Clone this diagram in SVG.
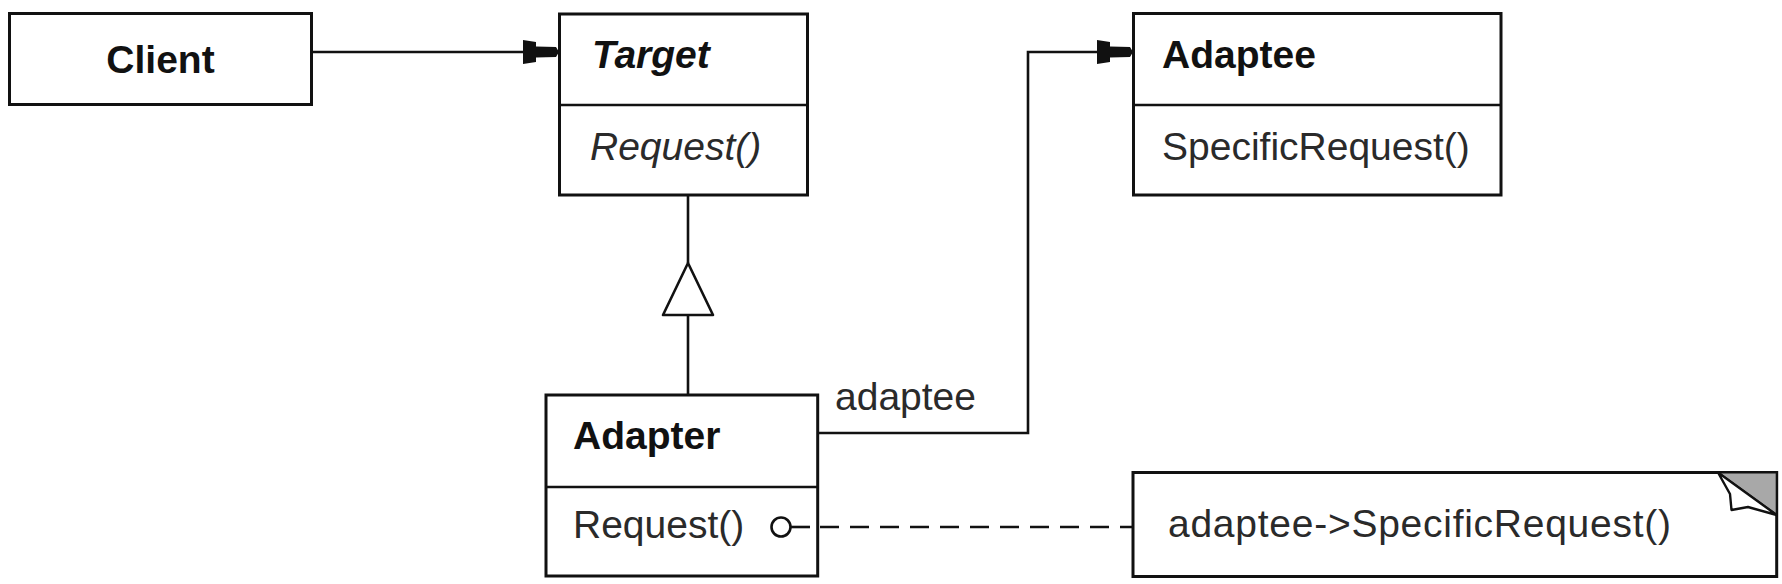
<svg xmlns="http://www.w3.org/2000/svg" width="1782" height="584" viewBox="0 0 1782 584">
<style>
.box{fill:#fff;stroke:#111;stroke-width:3}
.line{fill:none;stroke:#111;stroke-width:2.6}
.dash{fill:none;stroke:#111;stroke-width:2.6;stroke-dasharray:19 11}
.t{font-family:"Liberation Sans",Arial,Helvetica,sans-serif;font-size:39px;fill:#2a2a2a}
.b{font-weight:bold;fill:#111}
.i{font-style:italic}
</style>
<defs>
<marker id="arr" viewBox="0 0 36 24" refX="36" refY="12" markerWidth="36" markerHeight="24" markerUnits="userSpaceOnUse" orient="auto">
<path d="M0,0 L13,2 L13,6.5 L33,7 L36,12 L33,17 L13,17.5 L13,22 L0,24 Z" fill="#111"/>
</marker>
</defs>
<g id="client">
<rect class="box" x="9.5" y="13.5" width="302" height="91"/>
<text class="t b" x="160.5" y="73" text-anchor="middle">Client</text>
</g>
<g id="target">
<rect class="box" x="559.5" y="14" width="248" height="181"/>
<line class="line" x1="559.5" y1="105" x2="807.5" y2="105" stroke-width="3"/>
<text class="t b i" x="592" y="68">Target</text>
<text class="t i" x="590" y="160">Request()</text>
</g>
<g id="adaptee">
<rect class="box" x="1133.5" y="13.5" width="367.5" height="181.5"/>
<line class="line" x1="1133.5" y1="105" x2="1501" y2="105" stroke-width="3"/>
<text class="t b" x="1162" y="68">Adaptee</text>
<text class="t" x="1162" y="160">SpecificRequest()</text>
</g>
<g id="adapter">
<rect class="box" x="546" y="395" width="271.7" height="181"/>
<line class="line" x1="546" y1="487" x2="817.7" y2="487" stroke-width="3"/>
<text class="t b" x="573" y="449">Adapter</text>
<text class="t" x="573" y="538">Request()</text>
</g>
<g id="note">
<rect class="box" x="1133" y="472.5" width="643.7" height="104"/>
<path d="M1718,472.5 L1776.7,472.5 L1776.7,515 Z" fill="#a8a8a8" stroke="#111" stroke-width="2"/>
<path d="M1718,472.5 L1730,494 L1731.5,510 L1748,507 L1776.7,515 Z" fill="#fff" stroke="#111" stroke-width="2.4" stroke-linejoin="round"/>
<text class="t" x="1168" y="537" textLength="503" lengthAdjust="spacing">adaptee-&gt;SpecificRequest()</text>
</g>
<g id="connectors">
<path class="line" d="M311.7,52 L559,52" marker-end="url(#arr)"/>
<path class="line" d="M818,433 L1028,433 L1028,52 L1133,52" marker-end="url(#arr)"/>
<path class="line" d="M688,195 L688,263"/>
<path d="M688,263 L663,315 L713,315 Z" fill="#fff" stroke="#111" stroke-width="2.6" stroke-linejoin="round"/>
<path class="line" d="M688,315 L688,395"/>
<circle cx="781" cy="527" r="9.5" fill="#fff" stroke="#111" stroke-width="2.6"/>
<path class="line" d="M790.5,527 L810,527"/>
<path class="dash" d="M820,527 L1133,527"/>
<text class="t" x="835" y="410">adaptee</text>
</g>
</svg>
